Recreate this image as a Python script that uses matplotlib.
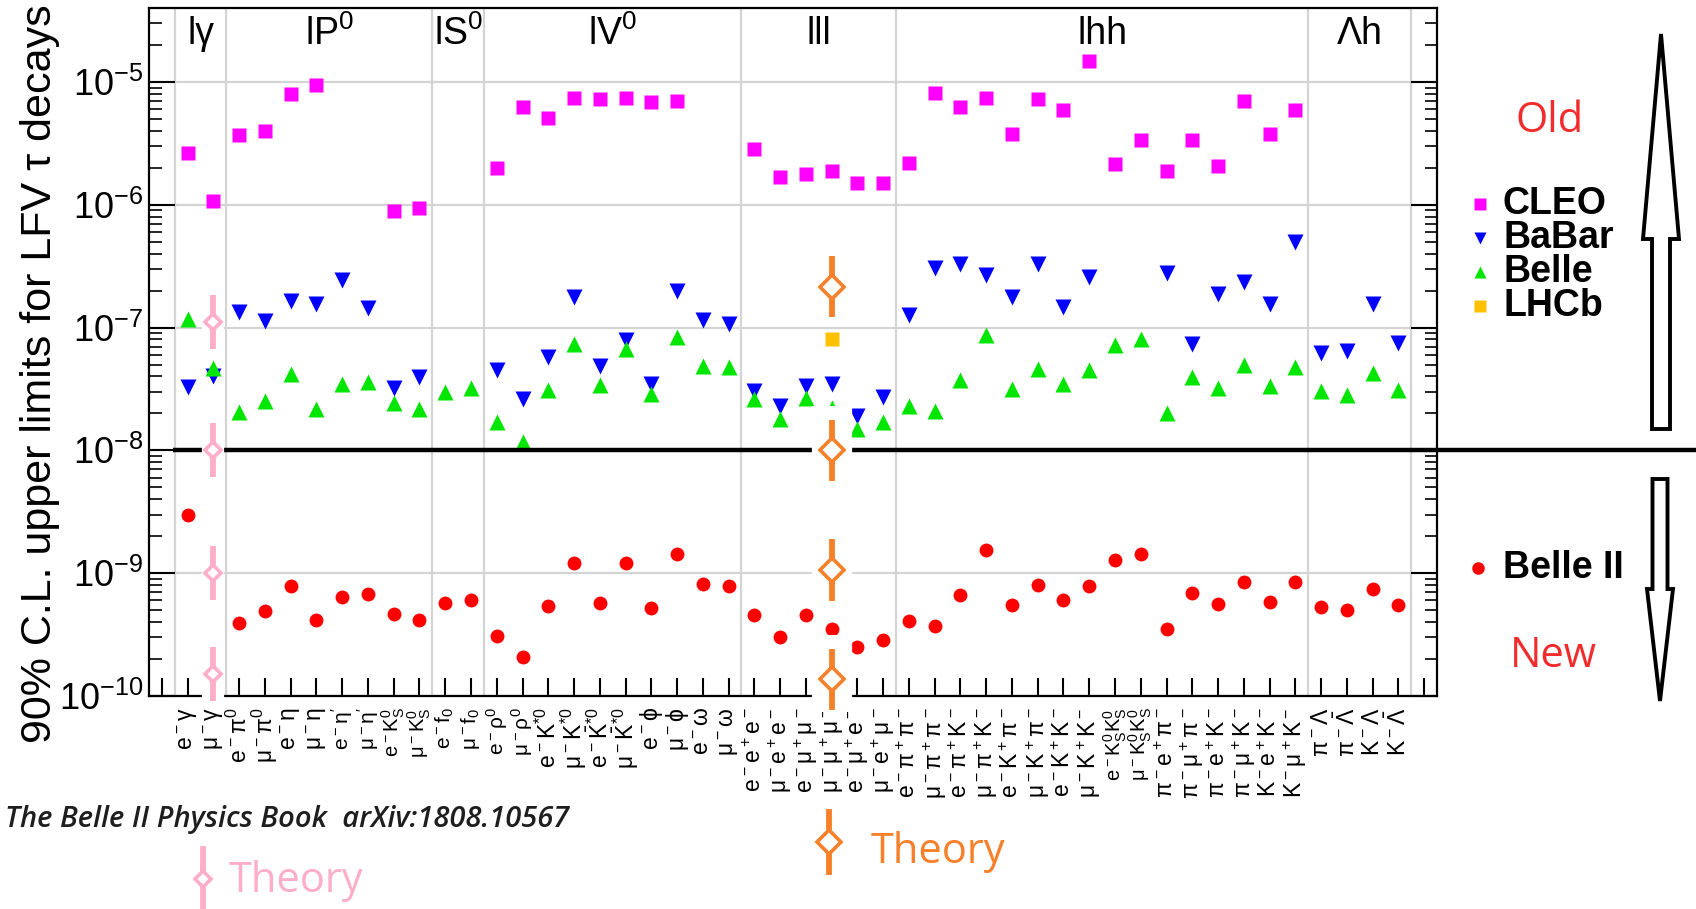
#!/usr/bin/env python3
"""
LFV tau decay upper limits (90% C.L.): CLEO / BaBar / Belle / LHCb limits
against the Belle II projections, with theory markers. Writes out.png.
"""
import numpy as np
import matplotlib

matplotlib.use("Agg")
import matplotlib.pyplot as plt
from matplotlib.patches import FancyArrow
from matplotlib.ticker import LogLocator, NullFormatter
from matplotlib.transforms import blended_transform_factory

plt.rcParams["font.family"] = ["Liberation Sans", "DejaVu Sans"]
plt.rcParams["mathtext.default"] = "regular"

nan = np.nan

GROUPS = ["lγ", r"lP$^{0}$", r"lS$^{0}$", r"lV$^{0}$", "lll", "lhh", "Λh"]
GROUP_SIZES = [2, 8, 2, 10, 6, 16, 4]

MODES = [
    r"$e^-\gamma$", r"$\mu^-\gamma$",
    r"$e^-\pi^0$", r"$\mu^-\pi^0$", r"$e^-\eta$", r"$\mu^-\eta$",
    r"$e^-\eta'$", r"$\mu^-\eta'$", r"$e^-K^0_S$", r"$\mu^-K^0_S$",
    r"$e^-f_0$", r"$\mu^-f_0$",
    r"$e^-\rho^0$", r"$\mu^-\rho^0$", r"$e^-K^{*0}$", r"$\mu^-K^{*0}$",
    r"$e^-\bar{K}^{*0}$", r"$\mu^-\bar{K}^{*0}$", r"$e^-\phi$", r"$\mu^-\phi$",
    r"$e^-\omega$", r"$\mu^-\omega$",
    r"$e^-e^+e^-$", r"$\mu^-e^+e^-$", r"$e^-\mu^+\mu^-$", r"$\mu^-\mu^+\mu^-$",
    r"$e^-\mu^+e^-$", r"$\mu^-e^+\mu^-$",
    r"$e^-\pi^+\pi^-$", r"$\mu^-\pi^+\pi^-$", r"$e^-\pi^+K^-$", r"$\mu^-\pi^+K^-$",
    r"$e^-K^+\pi^-$", r"$\mu^-K^+\pi^-$", r"$e^-K^+K^-$", r"$\mu^-K^+K^-$",
    r"$e^-K^0_SK^0_S$", r"$\mu^-K^0_SK^0_S$", r"$\pi^-e^+\pi^-$", r"$\pi^-\mu^+\pi^-$",
    r"$\pi^-e^+K^-$", r"$\pi^-\mu^+K^-$", r"$K^-e^+K^-$", r"$K^-\mu^+K^-$",
    r"$\pi^-\Lambda$", r"$\pi^-\bar{\Lambda}$", r"$K^-\Lambda$", r"$K^-\bar{\Lambda}$",
]

CLEO = [2.65e-6, 1.08e-6,
        3.67e-6, 3.96e-6, 8.0e-6, 9.4e-6, nan, nan, 8.9e-7, 9.4e-7,
        nan, nan,
        2.0e-6, 6.25e-6, 5.1e-6, 7.4e-6, 7.3e-6, 7.4e-6, 6.9e-6, 6.95e-6, nan, nan,
        2.86e-6, 1.68e-6, 1.79e-6, 1.88e-6, 1.49e-6, 1.49e-6,
        2.19e-6, 8.1e-6, 6.3e-6, 7.4e-6, 3.74e-6, 7.3e-6, 5.95e-6, 1.47e-5,
        2.15e-6, 3.37e-6, 1.87e-6, 3.37e-6, 2.07e-6, 6.95e-6, 3.74e-6, 5.95e-6,
        nan, nan, nan, nan]

BABAR = [3.3e-8, 4.0e-8,
         1.34e-7, 1.13e-7, 1.64e-7, 1.55e-7, 2.46e-7, 1.43e-7, 3.25e-8, 3.96e-8,
         nan, nan,
         4.5e-8, 2.6e-8, 5.8e-8, 1.78e-7, 4.9e-8, 7.9e-8, 3.5e-8, 2.0e-7, 1.16e-7, 1.06e-7,
         3.06e-8, 2.3e-8, 3.37e-8, 3.47e-8, 1.89e-8, 2.73e-8,
         1.26e-7, 3.08e-7, 3.3e-7, 2.7e-7, 1.78e-7, 3.3e-7, 1.47e-7, 2.6e-7,
         nan, nan, 2.8e-7, 7.3e-8, 1.87e-7, 2.33e-7, 1.57e-7, 4.99e-7,
         6.25e-8, 6.4e-8, 1.57e-7, 7.5e-8]

BELLE = [1.18e-7, 4.7e-8,
         2.07e-8, 2.53e-8, 4.15e-8, 2.17e-8, 3.45e-8, 3.6e-8, 2.45e-8, 2.17e-8,
         3.0e-8, 3.2e-8,
         1.7e-8, 1.17e-8, 3.1e-8, 7.3e-8, 3.4e-8, 6.7e-8, 2.9e-8, 8.4e-8, 4.85e-8, 4.77e-8,
         2.6e-8, 1.8e-8, 2.65e-8, 2.2e-8, 1.5e-8, 1.7e-8,
         2.3e-8, 2.1e-8, 3.75e-8, 8.7e-8, 3.14e-8, 4.56e-8, 3.45e-8, 4.5e-8,
         7.24e-8, 8.0e-8, 2.0e-8, 3.97e-8, 3.25e-8, 4.95e-8, 3.35e-8, 4.74e-8,
         3.03e-8, 2.8e-8, 4.3e-8, 3.13e-8]

LHCB_MODE = [26]
LHCB = [8.0e-8]

BELLE2 = [2.95e-9, nan,
          3.95e-10, 4.9e-10, 7.9e-10, 4.13e-10, 6.45e-10, 6.8e-10, 4.67e-10, 4.13e-10,
          5.7e-10, 6.1e-10,
          3.08e-10, 2.06e-10, 5.4e-10, 1.22e-9, 5.7e-10, 1.2e-9, 5.2e-10, 1.44e-9, 8.1e-10, 7.9e-10,
          4.54e-10, 3.0e-10, 4.54e-10, 3.52e-10, 2.52e-10, 2.86e-10,
          4.1e-10, 3.73e-10, 6.6e-10, 1.55e-9, 5.5e-10, 8.0e-10, 6.0e-10, 7.9e-10,
          1.28e-9, 1.43e-9, 3.52e-10, 6.9e-10, 5.66e-10, 8.5e-10, 5.84e-10, 8.4e-10,
          5.3e-10, 4.99e-10, 7.5e-10, 5.5e-10]

# theory predictions drawn on mu gamma (pink) and mu mu mu (orange)
THEORY_PINK_MODE = 2
THEORY_PINK = [1.1e-7, 1.0e-8, 1.0e-9, 1.5e-10]
THEORY_ORANGE_MODE = 26
THEORY_ORANGE = [2.15e-7, 1.0e-8, 1.06e-9, 1.37e-10]

YTICKS = [1e-10, 1e-9, 1e-8, 1e-7, 1e-6, 1e-5]
YTICK_LABELS = [r"$10^{-10}$", r"$10^{-9}$", r"$10^{-8}$",
                r"$10^{-7}$", r"$10^{-6}$", r"$10^{-5}$"]

PINK, ORANGE, RED, GRID = "#ffaec9", "#f7802a", "#f22c2c", "#d4d4d4"


def theory(ax, xm, vals, col, half, box_w, ms):
    v = np.array(vals)
    xs = np.full(len(v), xm)
    ax.vlines(xs, v / 10 ** 0.27, v * 10 ** 0.36, color="white", lw=box_w,
              zorder=5, clip_on=False)
    ax.vlines(xs, v / 10 ** half, v * 10 ** half, color=col, lw=4.2,
              zorder=6, clip_on=False)
    ax.plot(xs, v, ls="none", marker="D", ms=ms, mfc="white", mec=col, mew=2.6,
            zorder=7, clip_on=False)


def main():
    W, H = 1696, 909
    fig = plt.figure(figsize=(W / 100, H / 100), dpi=100, facecolor="white")
    ax = fig.add_axes([149 / W, 1 - 696 / H, (1437 - 149) / W, (696 - 8) / H])
    ax.set_yscale("log")
    ax.set_ylim(1e-10, 4e-5)
    ax.set_xlim(-0.5, 49.5)

    x = np.arange(1, len(MODES) + 1)
    bounds = 0.5 + np.concatenate([[0], np.cumsum(GROUP_SIZES)])
    for b in bounds:
        ax.axvline(b, color=GRID, lw=1.6, zorder=0)
    ax.grid(axis="y", which="major", color=GRID, lw=1.6, zorder=0)
    ax.set_axisbelow(True)

    series = [(CLEO, x, "#ff00ff", "s", 10), (BABAR, x, "#0000ff", "v", 11),
              (BELLE, x, "#00e600", "^", 11), (LHCB, LHCB_MODE, "#ffc000", "s", 10),
              (BELLE2, x, "#ff0000", "o", 10)]
    for vals, xs, col, mk, ms in series:
        ax.plot(xs, vals, ls="none", marker=mk, ms=ms, color=col, mec="none", zorder=3)

    # thick old/new divider at 1e-8, running out to the figure edge
    trans = blended_transform_factory(fig.transFigure, ax.transData)
    ax.plot([173 / W, 1.0], [1e-8, 1e-8], transform=trans, color="black", lw=3.2,
            clip_on=False, zorder=4, solid_capstyle="butt")

    theory(ax, THEORY_PINK_MODE, THEORY_PINK, PINK, 0.22, 16, 8)
    theory(ax, THEORY_ORANGE_MODE, THEORY_ORANGE, ORANGE, 0.25, 29, 12)

    tr = blended_transform_factory(ax.transData, ax.transAxes)
    centers = bounds[:-1] + np.array(GROUP_SIZES) / 2
    for c, g in zip(centers, GROUPS):
        ax.text(c, 0.962, g, transform=tr, ha="center", va="center", fontsize=27)

    ax.set_xticks(np.arange(0, 50))
    ax.set_xticklabels([""] + MODES + [""])
    ax.tick_params(axis="x", direction="in", length=13, width=1.5, pad=8,
                   labelsize=16.5, labelrotation=90, top=False)
    # labels with both a sub- and a superscript run wide; keep them a touch smaller
    for lab in ax.get_xticklabels():
        t = lab.get_text()
        if "K^0_S" in t:
            lab.set_fontsize(14.5)
        elif "f_0" in t or "'" in t or "rho" in t:
            lab.set_fontsize(15)
    ax.set_yticks(YTICKS)
    ax.set_yticklabels(YTICK_LABELS)
    ax.yaxis.set_minor_locator(LogLocator(base=10, subs=np.arange(2, 10), numticks=30))
    ax.yaxis.set_minor_formatter(NullFormatter())
    ax.tick_params(axis="y", which="major", direction="in", length=19, width=1.5,
                   right=True, labelsize=26, pad=4)
    ax.tick_params(axis="y", which="minor", direction="in", length=9, width=1.2,
                   right=True)
    for s in ax.spines.values():
        s.set_linewidth(1.6)

    # overlay in pixel units for the legend, arrows and notes
    ov = fig.add_axes([0, 0, 1, 1])
    ov.set_xlim(0, W)
    ov.set_ylim(H, 0)
    ov.axis("off")
    ov.patch.set_visible(False)

    ov.text(40, 374, "90% C.L. upper limits for LFV τ decays", rotation=90,
            ha="center", va="center", fontsize=31)

    legend_old = [("CLEO", "#ff00ff", "s"), ("BaBar", "#0000ff", "v"),
                  ("Belle", "#00e600", "^"), ("LHCb", "#ffc000", "s")]
    for i, (lab, col, mk) in enumerate(legend_old):
        yy = 204 + 34 * i
        ov.plot(1480, yy, marker=mk, ms=9, color=col, mec="none", ls="none")
        ov.text(1503, yy, lab, fontsize=27, fontweight="bold", ha="left", va="center")
    ov.plot(1478, 568, marker="o", ms=9, color="#ff0000", mec="none", ls="none")
    ov.text(1503, 568, "Belle II", fontsize=27, fontweight="bold", ha="left", va="center")

    ov.text(1550, 121, "Old", color=RED, fontsize=30, ha="center", va="center",
            family="Open Sans")
    ov.text(1553, 656, "New", color=RED, fontsize=30, ha="center", va="center",
            family="Open Sans")

    ov.add_patch(FancyArrow(1661, 429, 0, 34 - 429, width=18, head_width=36,
                            head_length=205, length_includes_head=True,
                            fc="white", ec="black", lw=2.8))
    ov.add_patch(FancyArrow(1660, 479, 0, 701 - 479, width=15, head_width=26,
                            head_length=112, length_includes_head=True,
                            fc="white", ec="black", lw=2.8))

    ov.text(5, 819, "The Belle II Physics Book  arXiv:1808.10567", fontsize=21,
            style="italic", fontweight="semibold", family="Open Sans", ha="left",
            va="center", color="#1e1e1e")

    # theory keys below the plot
    for (xk, yk, col, ms) in [(203, 879, PINK, 8), (829, 842, ORANGE, 12)]:
        ov.plot([xk, xk], [yk - 30, yk + 30], color=col, lw=4.2)
        ov.plot(xk, yk, marker="D", ms=ms, mfc="white", mec=col, mew=2.6)
    ov.text(229, 881, "Theory", color=PINK, fontsize=30, ha="left", va="center",
            family="Open Sans")
    ov.text(871, 852, "Theory", color=ORANGE, fontsize=30, ha="left", va="center",
            family="Open Sans")

    fig.savefig("out.png", dpi=100, facecolor="white")
    plt.close(fig)


if __name__ == "__main__":
    main()
